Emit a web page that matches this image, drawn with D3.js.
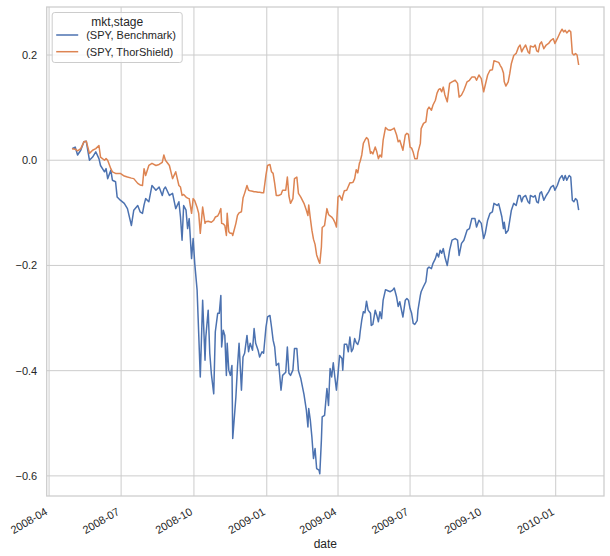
<!DOCTYPE html>
<html>
<head>
<meta charset="utf-8">
<script src="https://cdn.jsdelivr.net/npm/d3@7"></script>
<style>
  body { margin: 0; background: #fff; }
  svg { display: block; font-family: "Liberation Sans", Arial, sans-serif; }
</style>
</head>
<body>
<svg id="chart"></svg>
<script>
// DATA -----------------------------------------------------------
const dates = [
  "2008-04-30","2008-05-04","2008-05-07","2008-05-11","2008-05-15","2008-05-18","2008-05-22","2008-05-26","2008-05-30",
  "2008-06-03","2008-06-05","2008-06-10","2008-06-12","2008-06-14","2008-06-18","2008-06-20","2008-06-24","2008-06-26","2008-06-30",
  "2008-07-05","2008-07-09","2008-07-14","2008-07-17","2008-07-22","2008-07-25","2008-07-28","2008-07-30",
  "2008-08-01","2008-08-05","2008-08-09","2008-08-14","2008-08-18","2008-08-22","2008-08-24","2008-08-26","2008-08-31",
  "2008-09-04","2008-09-08","2008-09-12","2008-09-14","2008-09-16","2008-09-18","2008-09-21","2008-09-23","2008-09-25","2008-09-28","2008-09-30",
  "2008-10-02","2008-10-05","2008-10-07","2008-10-09","2008-10-12","2008-10-15","2008-10-16","2008-10-19","2008-10-21","2008-10-23","2008-10-26","2008-10-28","2008-10-31",
  "2008-11-02","2008-11-04","2008-11-05","2008-11-07","2008-11-09","2008-11-11","2008-11-12","2008-11-14","2008-11-16","2008-11-18","2008-11-19","2008-11-23","2008-11-25","2008-11-27","2008-11-30",
  "2008-12-02","2008-12-04","2008-12-07","2008-12-09","2008-12-11","2008-12-14","2008-12-16","2008-12-18","2008-12-21","2008-12-23","2008-12-26","2008-12-28","2008-12-31",
  "2009-01-02","2009-01-05","2009-01-07","2009-01-09","2009-01-11","2009-01-13","2009-01-16","2009-01-19","2009-01-21","2009-01-25","2009-01-27","2009-01-29","2009-01-31",
  "2009-02-03","2009-02-05","2009-02-08","2009-02-10","2009-02-13","2009-02-17","2009-02-20","2009-02-22","2009-02-23","2009-02-25","2009-02-27",
  "2009-03-01","2009-03-03","2009-03-05","2009-03-08","2009-03-09","2009-03-11","2009-03-12","2009-03-15","2009-03-18","2009-03-20","2009-03-22","2009-03-24","2009-03-26","2009-03-28","2009-03-30",
  "2009-04-01","2009-04-03","2009-04-06","2009-04-07","2009-04-09","2009-04-12","2009-04-14","2009-04-16","2009-04-18","2009-04-20","2009-04-22","2009-04-24","2009-04-26","2009-04-28","2009-04-29",
  "2009-05-01","2009-05-03","2009-05-05","2009-05-07","2009-05-09","2009-05-12","2009-05-13","2009-05-15","2009-05-18","2009-05-20","2009-05-22","2009-05-24","2009-05-26","2009-05-28","2009-05-31",
  "2009-06-03","2009-06-06","2009-06-09","2009-06-11","2009-06-14","2009-06-16","2009-06-18","2009-06-22","2009-06-25","2009-06-27","2009-06-29",
  "2009-07-01","2009-07-03","2009-07-05","2009-07-07","2009-07-10","2009-07-11","2009-07-14","2009-07-15","2009-07-18","2009-07-21","2009-07-23","2009-07-25","2009-07-28","2009-07-30",
  "2009-08-02","2009-08-04","2009-08-06","2009-08-08","2009-08-10","2009-08-12","2009-08-14","2009-08-17","2009-08-20","2009-08-23","2009-08-27","2009-08-30",
  "2009-09-01","2009-09-04","2009-09-07","2009-09-11","2009-09-14","2009-09-17","2009-09-21","2009-09-23","2009-09-26","2009-09-29",
  "2009-10-02","2009-10-04","2009-10-07","2009-10-10","2009-10-13","2009-10-15","2009-10-19","2009-10-21","2009-10-23","2009-10-25","2009-10-27","2009-10-28","2009-10-30",
  "2009-11-02","2009-11-04","2009-11-06","2009-11-09","2009-11-12","2009-11-15","2009-11-17","2009-11-19","2009-11-21","2009-11-24","2009-11-27","2009-11-29","2009-11-30",
  "2009-12-04","2009-12-06","2009-12-08","2009-12-10","2009-12-12","2009-12-14","2009-12-17","2009-12-20","2009-12-23","2009-12-26","2009-12-29","2009-12-31",
  "2010-01-03","2010-01-06","2010-01-09","2010-01-11","2010-01-13","2010-01-15","2010-01-18","2010-01-20","2010-01-22","2010-01-24","2010-01-26","2010-01-28","2010-01-30"
]

const benchmark = [
  0.022, 0.025, 0.010, 0.019, 0.035, 0.036, 0.000, 0.006, 0.016,
  0.003, -0.010, -0.022, -0.016, -0.035, -0.019, -0.038, -0.041, -0.070, -0.076,
  -0.082, -0.092, -0.124, -0.095, -0.086, -0.098, -0.101, -0.085,
  -0.073, -0.079, -0.048, -0.057, -0.051, -0.067, -0.055, -0.051, -0.067,
  -0.063, -0.092, -0.079, -0.108, -0.152, -0.086, -0.095, -0.130, -0.111, -0.187, -0.149,
  -0.196, -0.247, -0.329, -0.412, -0.266, -0.380, -0.336, -0.285, -0.367, -0.406, -0.444, -0.326, -0.291,
  -0.291, -0.257, -0.355, -0.323, -0.333, -0.409, -0.348, -0.399, -0.409, -0.390, -0.529, -0.450, -0.393, -0.348, -0.437,
  -0.374, -0.367, -0.333, -0.364, -0.348, -0.361, -0.320, -0.348, -0.361, -0.374, -0.364, -0.367, -0.317,
  -0.298, -0.295, -0.317, -0.342, -0.355, -0.390, -0.386, -0.437, -0.409, -0.403, -0.355, -0.405, -0.409,
  -0.399, -0.358, -0.358, -0.400, -0.415, -0.445, -0.475, -0.507, -0.472, -0.494, -0.526,
  -0.567, -0.548, -0.586, -0.589, -0.596, -0.532, -0.488, -0.485, -0.434, -0.466, -0.396, -0.412, -0.385, -0.412, -0.437,
  -0.406, -0.371, -0.377, -0.399, -0.350, -0.350, -0.364, -0.336, -0.364, -0.358, -0.339, -0.347, -0.350, -0.340, -0.326,
  -0.304, -0.288, -0.290, -0.268, -0.285, -0.291, -0.314, -0.312, -0.285, -0.295, -0.307, -0.288, -0.301, -0.266, -0.246,
  -0.248, -0.250, -0.247, -0.243, -0.260, -0.278, -0.269, -0.298, -0.266, -0.263, -0.266,
  -0.282, -0.291, -0.310, -0.312, -0.305, -0.285, -0.257, -0.250, -0.240, -0.231, -0.206, -0.203, -0.206, -0.196,
  -0.187, -0.177, -0.184, -0.171, -0.177, -0.168, -0.184, -0.200, -0.171, -0.152, -0.149, -0.152,
  -0.181, -0.158, -0.152, -0.133, -0.130, -0.111, -0.111, -0.127, -0.114, -0.120,
  -0.149, -0.139, -0.114, -0.101, -0.098, -0.082, -0.086, -0.083, -0.095, -0.108, -0.130, -0.118, -0.139,
  -0.133, -0.114, -0.095, -0.082, -0.086, -0.067, -0.067, -0.079, -0.070, -0.067, -0.079, -0.082, -0.067,
  -0.070, -0.067, -0.079, -0.081, -0.063, -0.060, -0.076, -0.067, -0.060, -0.051, -0.048, -0.057,
  -0.048, -0.035, -0.029, -0.038, -0.029, -0.038, -0.029, -0.032, -0.076, -0.079, -0.073, -0.076, -0.095
]

const thorShield = [
  0.022, 0.021, 0.018, 0.022, 0.035, 0.036, 0.013, 0.019, 0.022,
  0.028, 0.006, 0.000, 0.003, 0.000, -0.016, -0.022, -0.025, -0.025, -0.025,
  -0.030, -0.032, -0.034, -0.035, -0.044, -0.047, -0.048, -0.016,
  -0.029, -0.010, -0.006, -0.010, -0.008, -0.004, 0.010, 0.000, -0.010,
  -0.035, -0.022, -0.048, -0.051, -0.067, -0.065, -0.070, -0.072, -0.073, -0.101, -0.073,
  -0.077, -0.090, -0.101, -0.139, -0.089, -0.120, -0.117, -0.116, -0.117, -0.118, -0.114, -0.108, -0.106,
  -0.100, -0.092, -0.120, -0.121, -0.124, -0.143, -0.101, -0.136, -0.139, -0.139, -0.143, -0.120, -0.105, -0.100, -0.098,
  -0.072, -0.063, -0.048, -0.057, -0.058, -0.059, -0.060, -0.060, -0.061, -0.061, -0.062, -0.062, -0.028,
  -0.010, -0.008, -0.022, -0.025, -0.044, -0.067, -0.067, -0.065, -0.057, -0.057, -0.032, -0.068, -0.082,
  -0.073, -0.035, -0.032, -0.063, -0.070, -0.082, -0.095, -0.105, -0.085, -0.110, -0.133,
  -0.150, -0.160, -0.180, -0.193, -0.196, -0.165, -0.128, -0.124, -0.092, -0.103, -0.106, -0.108, -0.112, -0.118, -0.127,
  -0.070, -0.067, -0.076, -0.068, -0.058, -0.057, -0.050, -0.043, -0.043, -0.042, -0.035, -0.018, -0.024, -0.006, -0.002,
  0.010, 0.032, 0.038, 0.043, 0.040, 0.013, 0.016, 0.012, 0.025, 0.016, 0.003, 0.010, 0.006, 0.038, 0.062,
  0.058, 0.057, 0.059, 0.061, 0.048, 0.035, 0.038, 0.019, 0.048, 0.051, 0.049,
  0.025, 0.023, 0.015, 0.003, 0.003, 0.015, 0.032, 0.060, 0.070, 0.073, 0.096, 0.101, 0.095, 0.105,
  0.114, 0.127, 0.134, 0.136, 0.130, 0.139, 0.124, 0.111, 0.146, 0.149, 0.152, 0.146,
  0.120, 0.124, 0.133, 0.149, 0.152, 0.158, 0.158, 0.152, 0.162, 0.155,
  0.130, 0.143, 0.162, 0.171, 0.172, 0.189, 0.187, 0.186, 0.180, 0.175, 0.166, 0.149, 0.141,
  0.149, 0.165, 0.184, 0.199, 0.203, 0.215, 0.219, 0.206, 0.212, 0.219, 0.206, 0.203, 0.217,
  0.215, 0.219, 0.208, 0.206, 0.221, 0.225, 0.212, 0.219, 0.222, 0.228, 0.231, 0.222,
  0.231, 0.241, 0.249, 0.244, 0.247, 0.242, 0.247, 0.244, 0.203, 0.200, 0.203, 0.200, 0.181
]

const seriesNames = ["(SPY, Benchmark)", "(SPY, ThorShield)"]
const legendTitle = "mkt,stage"
const xLabel = "date"
const xTickDates = ["2008-04-01","2008-07-01","2008-10-01","2009-01-01","2009-04-01","2009-07-01","2009-10-01","2010-01-01"]
const yTickValues = [-0.6, -0.4, -0.2, 0.0, 0.2]

// SETUP -----------------------------------------------------------
const width = 610
const height = 556
const margin = { top: 7, right: 6, bottom: 60, left: 46.7 }
const boundedWidth = width - margin.left - margin.right
const boundedHeight = height - margin.top - margin.bottom

const parseDate = d3.timeParse("%Y-%m-%d")
const colors = ["#4c72b0", "#dd8452"]
const gridColor = "#cccccc"
const textColor = "#262626"

const series = [benchmark, thorShield].map((vals, i) => ({
  name: seriesNames[i],
  color: colors[i],
  points: vals.map((v, j) => ({ date: parseDate(dates[j]), value: v }))
}))

const svg = d3.select("#chart")
  .attr("width", width)
  .attr("height", height)

const group = svg.append("g")
  .attr("transform", `translate(${margin.left}, ${margin.top})`)

// SCALES (matplotlib style 5% padding) ----------------------------
const dateExtent = d3.extent(dates, parseDate)
const datePad = (dateExtent[1] - dateExtent[0]) * 0.05
const allValues = benchmark.concat(thorShield)
const valExtent = d3.extent(allValues)
const valPad = (valExtent[1] - valExtent[0]) * 0.05

const xScale = d3.scaleTime()
  .domain([new Date(+dateExtent[0] - datePad), new Date(+dateExtent[1] + datePad)])
  .range([0, boundedWidth])

const yScale = d3.scaleLinear()
  .domain([valExtent[0] - valPad, valExtent[1] + valPad])
  .range([boundedHeight, 0])

// GRID -----------------------------------------------------------
const xTicks = xTickDates.map(parseDate)

group.append("g")
  .selectAll("line")
  .data(xTicks)
  .join("line")
    .attr("x1", d => xScale(d))
    .attr("x2", d => xScale(d))
    .attr("y1", 0)
    .attr("y2", boundedHeight)
    .attr("stroke", gridColor)
    .attr("stroke-width", 1)

group.append("g")
  .selectAll("line")
  .data(yTickValues)
  .join("line")
    .attr("x1", 0)
    .attr("x2", boundedWidth)
    .attr("y1", d => yScale(d))
    .attr("y2", d => yScale(d))
    .attr("stroke", gridColor)
    .attr("stroke-width", 1)

// AXES -----------------------------------------------------------
const tickPad = 9.5
const xAxisGenerator = d3.axisBottom(xScale)
  .tickValues(xTicks)
  .tickSize(0)
  .tickPadding(0)
  .tickFormat(d3.timeFormat("%Y-%m"))

const xAxis = group.append("g")
  .attr("transform", `translate(0, ${boundedHeight})`)
  .call(xAxisGenerator)

xAxis.select(".domain").remove()
xAxis.selectAll("text")
  .attr("fill", textColor)
  .style("font-size", "11px")
  .attr("text-anchor", "end")
  .attr("dy", null)
  .attr("y", null)
  .attr("transform", `translate(-1.2, ${tickPad + 8.5}) rotate(-30)`)

const yAxisGenerator = d3.axisLeft(yScale)
  .tickValues(yTickValues)
  .tickSize(0)
  .tickPadding(tickPad)
  .tickFormat(d3.format(".1f"))

const yAxis = group.append("g")
  .call(yAxisGenerator)

yAxis.select(".domain").remove()
yAxis.selectAll("text")
  .attr("fill", textColor)
  .style("font-size", "11px")

group.append("text")
  .attr("x", boundedWidth / 2)
  .attr("y", boundedHeight + 52)
  .attr("text-anchor", "middle")
  .attr("fill", textColor)
  .style("font-size", "12px")
  .text(xLabel)

// DRAW DATA -----------------------------------------------------------
const line = d3.line()
  .x(d => xScale(d.date))
  .y(d => yScale(d.value))

series.forEach(s => {
  group.append("path")
    .datum(s.points)
    .attr("d", line)
    .attr("fill", "none")
    .attr("stroke", s.color)
    .attr("stroke-width", 1.5)
    .attr("stroke-linejoin", "round")
})

// SPINES -----------------------------------------------------------
group.append("rect")
  .attr("x", 0)
  .attr("y", 0)
  .attr("width", boundedWidth)
  .attr("height", boundedHeight)
  .attr("fill", "none")
  .attr("stroke", gridColor)
  .attr("stroke-width", 1.25)

// LEGEND -----------------------------------------------------------
const legend = group.append("g")
  .attr("transform", "translate(5.5, 5.5)")

legend.append("rect")
  .attr("width", 130)
  .attr("height", 50)
  .attr("rx", 2.5)
  .attr("fill", "white")
  .attr("fill-opacity", 0.8)
  .attr("stroke", gridColor)
  .attr("stroke-width", 1)

legend.append("text")
  .attr("x", 65)
  .attr("y", 13)
  .attr("text-anchor", "middle")
  .attr("fill", textColor)
  .style("font-size", "12px")
  .text(legendTitle)

series.forEach((s, i) => {
  const yy = 22.5 + i * 16.7
  legend.append("line")
    .attr("x1", 4)
    .attr("x2", 26)
    .attr("y1", yy)
    .attr("y2", yy)
    .attr("stroke", s.color)
    .attr("stroke-width", 1.5)
  legend.append("text")
    .attr("x", 34)
    .attr("y", yy + 4)
    .attr("fill", textColor)
    .style("font-size", "11px")
    .text(s.name)
})
</script>
</body>
</html>
